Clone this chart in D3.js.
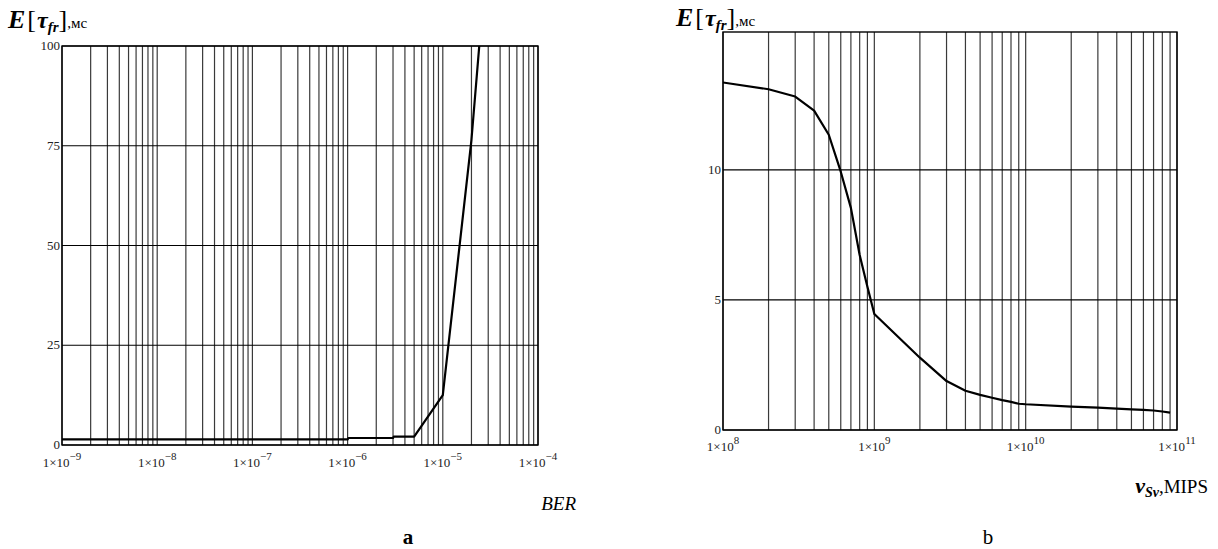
<!DOCTYPE html>
<html>
<head>
<meta charset="utf-8">
<script src="https://cdn.jsdelivr.net/npm/d3@7"></script>
<style>
  body { margin: 0; background: #fff; }
  svg text { font-family: "Liberation Serif", "DejaVu Serif", serif; }
  .tick-lbl { font-size: 13px; fill: #222; }
</style>
</head>
<body>
<svg width="1218" height="549"></svg>
<script>
var svg = d3.select("svg");

// panel a: BER vs E[tau_fr], ms
var berX = [1e-9, 1e-8, 1e-7, 1e-6, 1.02e-6, 3e-6, 3.05e-6, 5e-6, 1e-5, 2e-5, 3e-5];
var berY = [1.4, 1.4, 1.4, 1.4, 1.75, 1.75, 2.1, 2.1, 12.5, 76.5, 127];
var berDecades = [-9, -8, -7, -6, -5, -4];
var berYTicks = [0, 25, 50, 75, 100];

// panel b: v_Sv, MIPS vs E[tau_fr], ms
var mipsX = [1e8, 2e8, 3e8, 4e8, 5e8, 6e8, 7e8, 8e8, 9e8, 1e9,
             2e9, 3e9, 4e9, 5e9, 6e9, 7e9, 8e9, 9e9, 1e10,
             2e10, 3e10, 4e10, 5e10, 6e10, 7e10, 8e10, 9e10];
var mipsY = [13.36, 13.1, 12.82, 12.28, 11.35, 9.93, 8.54, 6.73, 5.51, 4.46,
             2.78, 1.88, 1.51, 1.35, 1.24, 1.15, 1.08, 1.01, 0.99,
             0.9, 0.86, 0.82, 0.79, 0.77, 0.75, 0.71, 0.67];
var mipsDecades = [8, 9, 10, 11];
var mipsYTicks = [0, 5, 10];

function drawPanel(opt) {
    var x = d3.scaleLog().domain(opt.xDomain).range([opt.left, opt.right]);
    var y = d3.scaleLinear().domain(opt.yDomain).range([opt.bottom, opt.top]);
    var g = svg.append("g");

    var clipId = "clip" + opt.id;
    g.append("clipPath").attr("id", clipId)
        .append("rect")
        .attr("x", opt.left).attr("y", opt.top)
        .attr("width", opt.right - opt.left).attr("height", opt.bottom - opt.top);

    // vertical grid, every multiple of each decade
    g.append("g")
        .selectAll("line")
        .data(x.ticks())
        .enter().append("line")
        .attr("x1", function (d) { return x(d); })
        .attr("x2", function (d) { return x(d); })
        .attr("y1", opt.top).attr("y2", opt.bottom)
        .attr("stroke", "#3a3a3a").attr("stroke-width", 1.2);

    // horizontal grid
    g.append("g")
        .selectAll("line")
        .data(opt.yTicks)
        .enter().append("line")
        .attr("x1", opt.left).attr("x2", opt.right)
        .attr("y1", function (d) { return y(d); })
        .attr("y2", function (d) { return y(d); })
        .attr("stroke", "#000").attr("stroke-width", 1.2);

    // frame
    g.append("rect")
        .attr("x", opt.left).attr("y", opt.top)
        .attr("width", opt.right - opt.left).attr("height", opt.bottom - opt.top)
        .attr("fill", "none").attr("stroke", "#000").attr("stroke-width", 1.4);

    // curve
    var pts = opt.xs.map(function (v, i) { return [v, opt.ys[i]]; });
    var line = d3.line()
        .x(function (d) { return x(d[0]); })
        .y(function (d) { return y(d[1]); });
    g.append("path")
        .datum(pts)
        .attr("clip-path", "url(#" + clipId + ")")
        .attr("d", line)
        .attr("fill", "none")
        .attr("stroke", "#000")
        .attr("stroke-width", 2.2)
        .attr("stroke-linejoin", "round");

    // y tick labels
    g.append("g")
        .selectAll("text")
        .data(opt.yLabels)
        .enter().append("text")
        .attr("class", "tick-lbl")
        .attr("x", opt.left - 2)
        .attr("y", function (d) { return y(d) + 4; })
        .attr("text-anchor", "end")
        .text(function (d) { return d; });

    // x tick labels: 1×10^n
    var xl = g.append("g")
        .selectAll("text")
        .data(opt.decades)
        .enter().append("text")
        .attr("class", "tick-lbl")
        .attr("x", function (d) { return x(Math.pow(10, d)); })
        .attr("y", opt.bottom + opt.xLabelDy)
        .attr("text-anchor", "middle");
    xl.append("tspan").text("1×10");
    xl.append("tspan")
        .attr("dy", -7)
        .attr("font-size", "11px")
        .text(function (d) { return d < 0 ? "\u2212" + (-d) : d; });

    return { x: x, y: y };
}

function drawTitle(x0, y0) {
    var t = svg.append("text")
        .attr("x", x0).attr("y", y0);
    t.append("tspan").attr("font-size", "26px").attr("font-weight", "bold")
        .attr("font-style", "italic").text("E");
    t.append("tspan").attr("font-size", "26px").attr("dx", 2).text("[");
    t.append("tspan").attr("font-size", "24px").attr("font-weight", "bold")
        .attr("font-style", "italic").attr("dx", 1).text("τ");
    t.append("tspan").attr("font-size", "15px").attr("font-weight", "bold")
        .attr("font-style", "italic").attr("dy", 4).text("fr");
    t.append("tspan").attr("font-size", "26px").attr("dy", -4).text("]");
    t.append("tspan").attr("font-size", "15px").text(",мс");
}

drawPanel({
    id: "a", xDomain: [1e-9, 1e-4], yDomain: [0, 100],
    left: 62, right: 538, top: 46, bottom: 445,
    xs: berX, ys: berY, yTicks: berYTicks, yLabels: berYTicks,
    decades: berDecades, xLabelDy: 22
});

drawPanel({
    id: "b", xDomain: [1e8, 1e11], yDomain: [0, 15.3],
    left: 723, right: 1177, top: 32, bottom: 430,
    xs: mipsX, ys: mipsY, yTicks: mipsYTicks, yLabels: mipsYTicks,
    decades: mipsDecades, xLabelDy: 21
});

drawTitle(8, 28);
drawTitle(676, 26);

// axis names and panel letters
svg.append("text")
    .attr("x", 576).attr("y", 510)
    .attr("text-anchor", "end")
    .attr("font-size", "19px").attr("font-style", "italic")
    .text("BER");

var vt = svg.append("text")
    .attr("x", 1208).attr("y", 493)
    .attr("text-anchor", "end");
vt.append("tspan").attr("font-size", "22px").attr("font-weight", "bold")
    .attr("font-style", "italic").text("v");
vt.append("tspan").attr("font-size", "14px").attr("font-weight", "bold")
    .attr("font-style", "italic").attr("dy", 4).text("Sv");
vt.append("tspan").attr("font-size", "19px").attr("dy", -4).text(",MIPS");

svg.append("text")
    .attr("x", 408).attr("y", 544)
    .attr("text-anchor", "middle")
    .attr("font-size", "21px").attr("font-weight", "bold")
    .text("a");

svg.append("text")
    .attr("x", 988).attr("y", 544)
    .attr("text-anchor", "middle")
    .attr("font-size", "21px")
    .text("b");
</script>
</body>
</html>
